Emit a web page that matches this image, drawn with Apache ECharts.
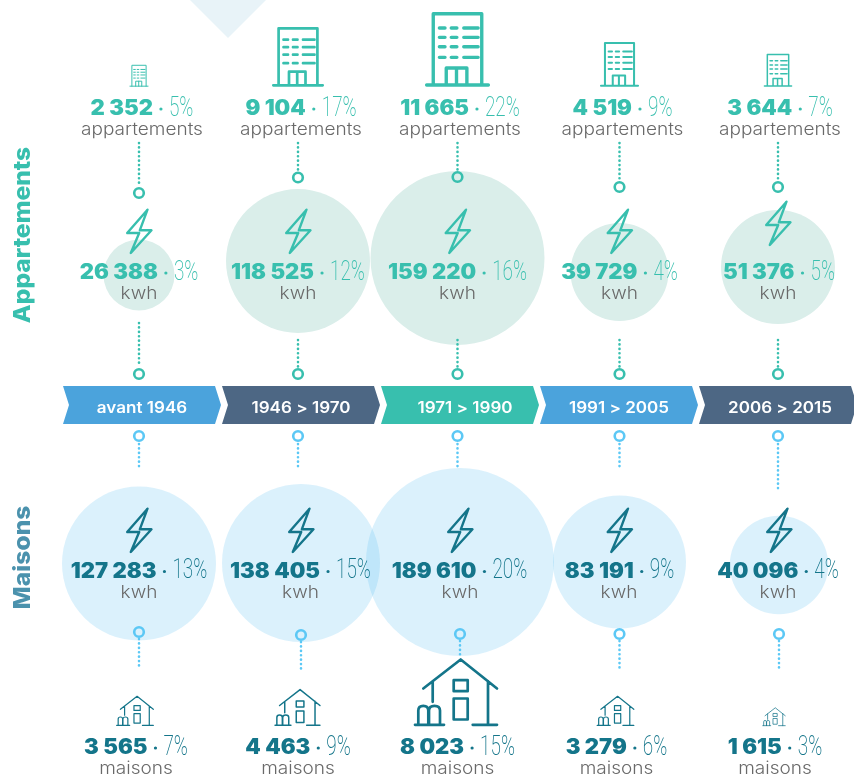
<!DOCTYPE html>
<html>
<head>
<meta charset="utf-8">
<style>html,body{margin:0;padding:0;background:#fff}#main{width:854px;height:776px}</style>
<script src="https://cdn.jsdelivr.net/npm/echarts@6/dist/echarts.min.js"></script>
</head>
<body>
<div id="main"></div>
<script>
// data
var periods = ['avant 1946', '1946 > 1970', '1971 > 1990', '1991 > 2005', '2006 > 2015'];
var apptCount = [2352, 9104, 11665, 4519, 3644];
var apptCountPct = [5, 17, 22, 9, 7];
var apptKwh = [26388, 118525, 159220, 39729, 51376];
var apptKwhPct = [3, 12, 16, 4, 5];
var houseKwh = [127283, 138405, 189610, 83191, 40096];
var houseKwhPct = [13, 15, 20, 9, 4];
var houseCount = [3565, 4463, 8023, 3279, 1615];
var houseCountPct = [7, 9, 15, 6, 3];

var TEAL = '#38bfae', DARK = '#14758a', SKY = '#5cc8f5', GREY = '#696969';
var ribbonColors = ['#4ba3dc', '#4d6784', '#38bfae', '#4ba3dc', '#4d6784'];

// size scales (value -> px), picture does not follow one clean formula
var bubbleStops = [[26388, 71], [39729, 98], [51376, 114], [83191, 133], [118525, 144], [127283, 154], [138405, 158], [159220, 174], [189610, 188]];
var buildingStops = [[2352, 22], [3644, 33], [4519, 45], [9104, 60], [11665, 75]];
var houseStops = [[1615, 23], [3279, 37.5], [3565, 37.5], [4463, 46], [8023, 84]];
function scale(stops, v) {
    for (var i = 1; i < stops.length; i++) {
        if (v <= stops[i][0]) {
            return echarts.number.linearMap(v, [stops[i - 1][0], stops[i][0]], [stops[i - 1][1], stops[i][1]], true);
        }
    }
    return stops[stops.length - 1][1];
}

// layout of the rows on the hidden y axis, and nudges from the column centre
var apptDx = [-3, -3, -2.5, 0.5, 0];
var apptBubbleY = [275, 261, 258, 272, 267];
var houseBubbleY = [563.5, 563, 562, 562, 565];
var houseBubbleDx = [-3, 0, 0, 0.5, 1];
var topLabelDx = [0, 0, 0, 3.5, 2];
var apptLabelDx = [-3, -3, -2.5, 0.5, 1];
var houseLabelDx = [-3, -0.5, -0.5, 0.5, 0];
var houseUnitDx = [-3, -0.5, 0, 0, 0];
var bottomLabelDx = [-6, -3, -2.5, -2.5, -3];
var houseIconDx = [-7, -3.5, -4, -3.5, -4];
var ribbonTextDx = [0, 0, 5, 0, 2];
var apptBoltY = [209, 209, 209, 209, 201];
var ringApptTop = [193, 177.5, 177, 187, 187];
var dotApptBottom = [323, 340, 340, 340, 340];
var dotHouseTopEnd = [470, 470, 470, 470, 492];
var ringHouseBottom = [632, 635, 634, 634, 634];
var dotHouseBottomEnd = [667, 669, 655, 668, 669];

var ICON_BUILDING = 'M1.3 58.6H50.7M6.6 58.6V1.6H45.4V58.6M17 58.6V45H33.5V58.6M25.2 45V58.6' +
    'M11.5 13H16M21 13H25.5M31 13H42.5M11.5 20.5H16M21 20.5H25.5M31 20.5H42.5' +
    'M11.5 28H16M21 28H25.5M31 28H42.5M11.5 36.5H16M21 36.5H25.5M31 36.5H42.5';
var ICON_HOUSE = 'M9.3 30L46.7 1L83 30M18.7 23V43.3M74 22.5V66.3M58.7 66.3H83M1 66.3H30' +
    'M39.7 21.7H53.7V32.7H39.7ZM39.7 40H53.7V61H39.7Z' +
    'M4.3 66V52Q4.3 47.3 9.3 47.3Q14.3 47.3 14.3 52V66M15 66V52Q15 47.3 20.5 47.3Q26 47.3 26 52V66';
var ICON_BOLT = 'M21 0.7L0.7 24H12.7L4.3 44L25 21.3H13.3Z';

var measure = document.createElement('canvas').getContext('2d');
function textWidth(text, font) {
    measure.font = font;
    return measure.measureText(text).width;
}
function fmt(v) {
    return String(v).replace(/\B(?=(\d{3})+$)/g, ' ');
}

var NUM_FONT = '900 21px Inter';
var NUM_SCALE = 1.05;
var PCT_FONT = '200 27px Roboto';
var PCT_SCALE = 0.7;

// "2 352 · 5%" : bold number, small dot, thin condensed percent
function valueLabel(cx, y, value, pct, color) {
    var num = fmt(value), p = pct + '%';
    var nw = textWidth(num, NUM_FONT) * NUM_SCALE;
    var pw = textWidth(p, PCT_FONT) * PCT_SCALE;
    var gap = 16;
    var x0 = cx - (nw + gap + pw) / 2;
    return [
        {type: 'text', x: x0, y: y, scaleX: NUM_SCALE, style: {text: num, font: NUM_FONT, fill: color, align: 'left', verticalAlign: 'middle'}},
        {type: 'circle', shape: {cx: x0 + nw + gap / 2, cy: y, r: 1.6}, style: {fill: color}},
        {type: 'text', x: x0 + nw + gap, y: y, scaleX: PCT_SCALE, style: {text: p, font: PCT_FONT, fill: color, align: 'left', verticalAlign: 'middle'}}
    ];
}
function unitLabel(cx, y, text) {
    return {type: 'text', x: cx, y: y, scaleX: 1.12, style: {text: text, font: '300 17px Inter', fill: GREY, align: 'center', verticalAlign: 'middle'}};
}
function icon(path, x, y, s, color) {
    return {type: 'path', x: x, y: y, scaleX: s, scaleY: s, shape: {pathData: path},
        style: {fill: 'none', stroke: color, lineWidth: 2.7, lineCap: 'round', lineJoin: 'round'}};
}
function dotted(x, y1, y2, color) {
    return {type: 'line', shape: {x1: x, y1: y1, x2: x, y2: y2},
        style: {stroke: color, lineWidth: 2.6, lineCap: 'round', lineDash: [0.1, 4.3]}};
}
function ring(x, y, color) {
    return {type: 'circle', shape: {cx: x, cy: y, r: 4.8}, style: {fill: 'none', stroke: color, lineWidth: 2.6}};
}

function customSeries(name, z, draw) {
    return {
        name: name,
        type: 'custom',
        z: z,
        silent: true,
        clip: false,
        data: periods.map(function (p, i) { return [i, 0]; }),
        renderItem: function (params, api) {
            var i = params.dataIndex;
            var base = api.coord([i, 0]);
            // y axis runs 0..776 over the whole page
            var at = function (dx, y) { return api.coord([i, y])[1]; };
            return {type: 'group', children: draw(i, base[0], at, api.size([1, 0])[0])};
        }
    };
}

var option = {
    animation: false,
    grid: {left: 62.5, width: 795, top: 0, bottom: 0, outerBoundsMode: 'none'},
    xAxis: {type: 'category', data: periods, show: false},
    yAxis: {type: 'value', min: 0, max: 776, inverse: true, show: false},
    graphic: [
        {type: 'polygon', shape: {points: [[190, 0], [266, 0], [228, 38]]}, style: {fill: '#e8f3f8'}},
        {type: 'text', x: 23, y: 235, rotation: Math.PI / 2, scaleX: 1.07, style: {text: 'Appartements', font: '800 23px Inter', fill: TEAL, align: 'center', verticalAlign: 'middle'}},
        {type: 'text', x: 23, y: 557.5, rotation: Math.PI / 2, scaleX: 1.07, style: {text: 'Maisons', font: '800 23px Inter', fill: '#4b92ad', align: 'center', verticalAlign: 'middle'}}
    ],
    series: [
        {
            name: 'Appartements kwh',
            type: 'scatter',
            z: 1,
            silent: true,
            symbolSize: function (v) { return scale(bubbleStops, v[2]); },
            itemStyle: {color: '#daeeea', opacity: 1},
            data: apptKwh.map(function (v, i) {
                return {value: [i, apptBubbleY[i], v], symbolOffset: [apptDx[i], 0]};
            })
        },
        {
            name: 'Maisons kwh',
            type: 'scatter',
            z: 1,
            silent: true,
            symbolSize: function (v) { return scale(bubbleStops, v[2]); },
            itemStyle: {color: 'rgba(74,186,240,0.2)', opacity: 1},
            data: houseKwh.map(function (v, i) {
                return {value: [i, houseBubbleY[i], v], symbolOffset: [houseBubbleDx[i], 0]};
            })
        },
        // ribbon of periods
        customSeries('periodes', 3, function (i, cx, at, band) {
            var x0 = cx - band / 2 + 0.5, x1 = cx + band / 2 - 0.5, t = at(0, 386), b = at(0, 424), m = at(0, 405);
            return [
                {type: 'polygon', shape: {points: [[x0, t], [x1 - 6, t], [x1, m], [x1 - 6, b], [x0, b], [x0 + 6, m]]}, style: {fill: ribbonColors[i]}},
                {type: 'text', x: cx + ribbonTextDx[i], y: m + 3.5, scaleX: 1.1, style: {text: periods[i], font: '600 15.5px Inter', fill: '#fff', align: 'center', verticalAlign: 'middle'}}
            ];
        }),
        // dotted connectors and rings
        customSeries('liens', 3, function (i, cx, at) {
            var xa = cx + apptDx[i], xh = cx + houseBubbleDx[i];
            return [
                dotted(xa, at(0, 143), at(0, ringApptTop[i] - 6), TEAL),
                ring(xa, at(0, ringApptTop[i]), TEAL),
                dotted(xa, at(0, dotApptBottom[i]), at(0, 367), TEAL),
                ring(xa, at(0, 374), TEAL),
                ring(xa, at(0, 436), SKY),
                dotted(xa, at(0, 444), at(0, dotHouseTopEnd[i]), SKY),
                ring(xh, at(0, ringHouseBottom[i]), SKY),
                dotted(xh, at(0, ringHouseBottom[i] + 7), at(0, dotHouseBottomEnd[i]), SKY)
            ];
        }),
        // appartements icons and labels
        customSeries('appartements', 4, function (i, cx, at) {
            var h = scale(buildingStops, apptCount[i]), s = h / 60, xa = cx + apptDx[i];
            var out = [
                icon(ICON_BUILDING, xa - 26 * s, at(0, 86.7) - h, s, TEAL),
                unitLabel(cx + topLabelDx[i], at(0, 130), 'appartements'),
                icon(ICON_BOLT, xa - 12.5, at(0, apptBoltY[i]), 1, TEAL),
                unitLabel(xa, at(0, 294), 'kwh')
            ];
            out[2].style.lineWidth = 2.4;
            return out.concat(
                valueLabel(cx + topLabelDx[i], at(0, 109), apptCount[i], apptCountPct[i], TEAL),
                valueLabel(cx + apptLabelDx[i], at(0, 273), apptKwh[i], apptKwhPct[i], TEAL)
            );
        }),
        // maisons icons and labels
        customSeries('maisons', 4, function (i, cx, at) {
            var w = scale(houseStops, houseCount[i]), s = w / 84;
            var out = [
                icon(ICON_BOLT, cx + houseBubbleDx[i] - 12.5, at(0, 508), 1, DARK),
                unitLabel(cx + houseUnitDx[i], at(0, 593), 'kwh'),
                icon(ICON_HOUSE, cx + houseIconDx[i] - 42 * s, at(0, 726) - 67.5 * s, s, DARK),
                unitLabel(cx + bottomLabelDx[i], at(0, 769), 'maisons')
            ];
            out[0].style.lineWidth = 2.4;
            return out.concat(
                valueLabel(cx + houseLabelDx[i], at(0, 571.5), houseKwh[i], houseKwhPct[i], DARK),
                valueLabel(cx + bottomLabelDx[i], at(0, 748), houseCount[i], houseCountPct[i], DARK)
            );
        })
    ]
};

var myChart = echarts.init(document.getElementById('main'));
myChart.setOption(option);
</script>
</body>
</html>
